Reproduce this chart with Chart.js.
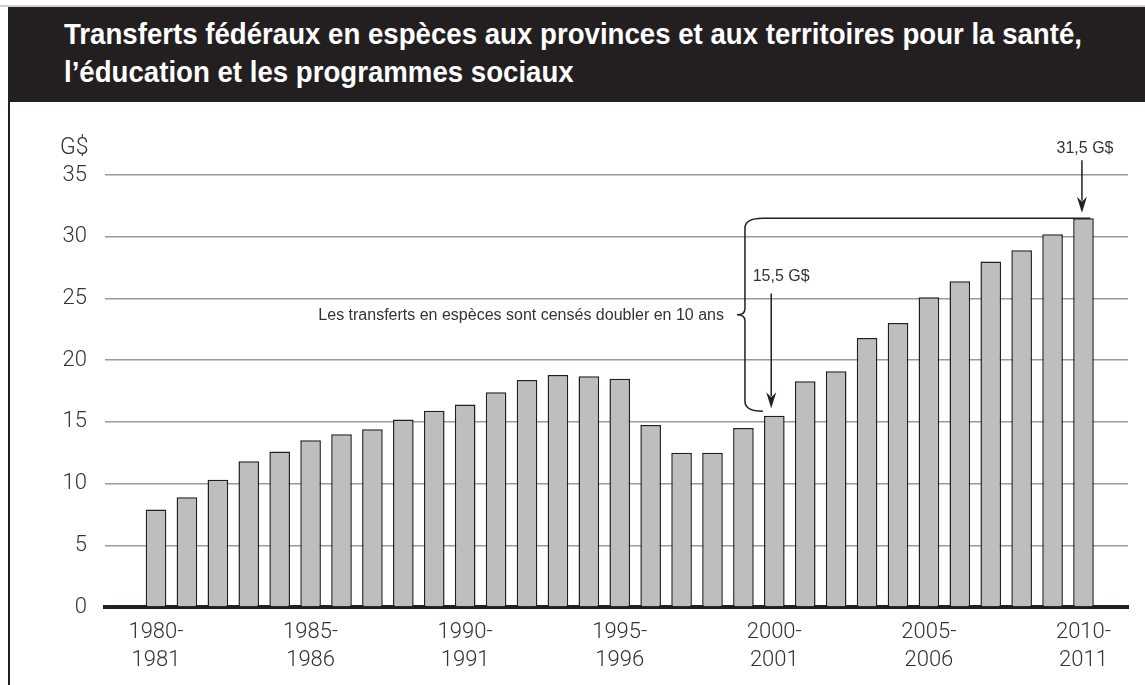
<!DOCTYPE html>
<html>
<head>
<meta charset="utf-8">
<script src="https://cdn.jsdelivr.net/npm/chart.js@4.4.1/dist/chart.umd.min.js"></script>
<style>
  html, body { margin: 0; padding: 0; background: #fff; }
  #wrap { position: relative; width: 1145px; height: 685px; overflow: hidden; }
  #topline { position: absolute; left: 0; top: 5px; width: 1145px; height: 2px; background: #d0d0d0; }
  #header { position: absolute; left: 8px; top: 7px; width: 1137px; height: 95px; background: #231f20; }
  #title { position: absolute; left: 64px; top: 15px; color: #fff; font-family: "Liberation Sans", Arial, sans-serif; font-weight: bold; font-size: 29px; line-height: 38px; white-space: nowrap; transform-origin: 0 0; }
  #leftline { position: absolute; left: 8px; top: 102px; width: 1.5px; height: 583px; background: #231f20; }
  canvas { position: absolute; left: 0; top: 0; }
</style>
</head>
<body>
<div id="wrap">
  <div id="topline"></div>
  <div id="header"></div>
  <div id="title"><span id="t1">Transferts fédéraux en espèces aux provinces et aux territoires pour la santé,</span><br><span>l’éducation et les programmes sociaux</span></div>
  <div id="leftline"></div>
  <canvas id="c" width="1145" height="685"></canvas>
</div>
<script>
// ---- Data ----
const years = [
  "1980-1981","1981-1982","1982-1983","1983-1984","1984-1985",
  "1985-1986","1986-1987","1987-1988","1988-1989","1989-1990",
  "1990-1991","1991-1992","1992-1993","1993-1994","1994-1995",
  "1995-1996","1996-1997","1997-1998","1998-1999","1999-2000",
  "2000-2001","2001-2002","2002-2003","2003-2004","2004-2005",
  "2005-2006","2006-2007","2007-2008","2008-2009","2009-2010",
  "2010-2011"
];
const values = [
  7.9, 8.9, 10.3, 11.8, 12.6,
  13.5, 14.0, 14.4, 15.2, 15.9,
  16.4, 17.4, 18.4, 18.8, 18.7,
  18.5, 14.75, 12.5, 12.5, 14.5,
  15.5, 18.3, 19.1, 21.8, 23.0,
  25.1, 26.4, 28.0, 28.9, 30.2,
  31.5
];
const xTickIndices = [0, 5, 10, 15, 20, 25, 30];
const yTicks = [0, 5, 10, 15, 20, 25, 30, 35];
const unitLabel = "G$";
const startLabel = "15,5 G$";
const endLabel = "31,5 G$";
const noteText = "Les transferts en espèces sont censés doubler en 10 ans";
const startIdx = 20, endIdx = 30;

// Fit title width
(function(){
  const t1 = document.getElementById('t1');
  const w = t1.getBoundingClientRect().width;
  const s = 1018 / w;
  document.getElementById('title').style.transform = 'scaleX(' + s + ')';
})();

const LIGHT = "'Roboto', 'Liberation Sans', sans-serif";
const ANN = "'Liberation Sans', Arial, sans-serif";
const textColor = '#333333';

const annotations = {
  id: 'annotations',
  afterDraw(chart) {
    const ctx = chart.ctx;
    const xs = chart.scales.x, ys = chart.scales.y;
    const X = v => xs.getPixelForValue(v);
    const Y = v => ys.getPixelForValue(v);
    ctx.save();
    ctx.fillStyle = textColor;
    ctx.font = '300 23px ' + LIGHT;
    ctx.textAlign = 'left';
    ctx.textBaseline = 'middle';
    ctx.fillText(unitLabel, 60, Y(37.2));

    function arrow(x, y0, y1) {
      ctx.strokeStyle = '#231f20';
      ctx.fillStyle = '#231f20';
      ctx.lineWidth = 1.5;
      ctx.beginPath();
      ctx.moveTo(x, y0);
      ctx.lineTo(x, y1 - 12);
      ctx.stroke();
      ctx.beginPath();
      ctx.moveTo(x - 5, y1 - 16);
      ctx.lineTo(x, y1 - 11);
      ctx.lineTo(x + 5, y1 - 16);
      ctx.lineTo(x, y1);
      ctx.closePath();
      ctx.fill();
    }
    ctx.font = '16px ' + ANN;
    ctx.textAlign = 'center';
    const sx = X(startIdx - 0.1);
    arrow(sx, Y(25.4), Y(values[startIdx] + 0.6));
    ctx.fillStyle = textColor;
    ctx.fillText(startLabel, X(startIdx + 0.22), Y(26.8));
    const ex = X(endIdx - 0.05);
    arrow(ex, Y(36.2), Y(values[endIdx] + 0.45));
    ctx.fillStyle = textColor;
    ctx.fillText(endLabel, X(endIdx + 0.05), Y(37.1));

    // brace
    const bx = X(19.05);
    const top = Y(values[endIdx]);
    const bot = Y(values[startIdx] + 0.35);
    const mid = (top + bot) / 2;
    const r = 10;
    ctx.strokeStyle = '#231f20';
    ctx.lineWidth = 1.5;
    ctx.beginPath();
    ctx.moveTo(bx + 18, top);
    ctx.quadraticCurveTo(bx, top, bx, top + r);
    ctx.lineTo(bx, mid - 6);
    ctx.quadraticCurveTo(bx, mid, bx - 8, mid);
    ctx.quadraticCurveTo(bx, mid, bx, mid + 6);
    ctx.lineTo(bx, bot - r);
    ctx.quadraticCurveTo(bx, bot, bx + 18, bot);
    ctx.stroke();
    ctx.beginPath();
    ctx.moveTo(bx + 18, top);
    ctx.lineTo(X(endIdx + 0.22), top);
    ctx.stroke();

    ctx.fillStyle = textColor;
    ctx.font = '16px ' + ANN;
    ctx.textAlign = 'right';
    ctx.textBaseline = 'middle';
    ctx.fillText(noteText, X(18.37), mid + 1);
    ctx.restore();
  }
};

new Chart(document.getElementById('c'), {
  type: 'bar',
  data: {
    datasets: [{
      data: values.map((v, i) => ({ x: i, y: v })),
      backgroundColor: '#bdbec0',
      borderColor: '#231f20',
      borderWidth: 1.5,
      borderSkipped: 'bottom',
      barPercentage: 0.667,
      categoryPercentage: 1
    }]
  },
  options: {
    responsive: false,
    animation: false,
    devicePixelRatio: 1,
    layout: { padding: { left: 0, top: 175, right: 17, bottom: 0 } },
    plugins: { legend: { display: false }, tooltip: { enabled: false }, title: { display: false } },
    scales: {
      x: {
        type: 'linear',
        min: -1.65,
        max: 31.44,
        offset: false,
        bounds: 'data',
        afterBuildTicks: (s) => { s.ticks = xTickIndices.map(v => ({ value: v })); },
        afterFit: (s) => { s.height = 78; },
        grid: { display: false, drawTicks: false },
        border: { display: true, color: '#231f20', width: 4 },
        ticks: {
          padding: 11,
          color: textColor,
          font: { family: LIGHT, size: 22, weight: '300', lineHeight: 1.3 },
          maxRotation: 0,
          autoSkip: false,
          callback: (v) => {
            if (!xTickIndices.includes(v)) return '';
            const p = years[v].split('-');
            return [p[0] + '-', p[1]];
          }
        }
      },
      y: {
        min: 0,
        max: 35,
        afterBuildTicks: (s) => { s.ticks = yTicks.map(v => ({ value: v })); },
        afterFit: (s) => { s.width = 105; },
        grid: { color: '#9a9a9a', lineWidth: 1.5, drawTicks: false },
        border: { display: false },
        ticks: {
          padding: 18,
          color: textColor,
          font: { family: LIGHT, size: 22, weight: '300' }
        }
      }
    }
  },
  plugins: [annotations]
});
</script>
</body>
</html>
